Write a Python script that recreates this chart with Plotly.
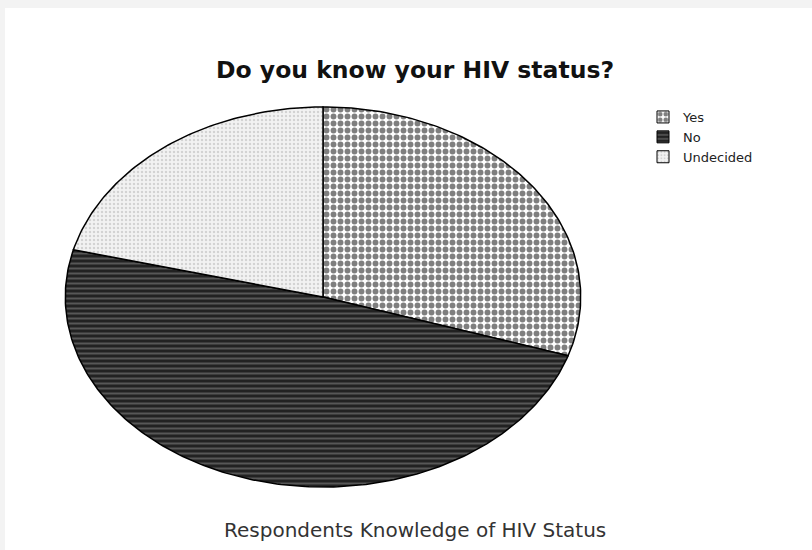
import numpy as np
import plotly.graph_objects as go

# Survey responses: "Do you know your HIV status?"
categories = ["Yes", "No", "Undecided"]
shares = [30, 49, 21]  # percent of respondents

# Per-slice pattern styling
patterns = {
    "Yes": dict(shape=".", fgcolor="#000000", bgcolor="#ffffff", size=7, solidity=0.55),
    "No": dict(shape="-", fgcolor="#8c8c8c", bgcolor="#222222", size=5, solidity=0.4),
    "Undecided": dict(shape=".", fgcolor="#b4b4b4", bgcolor="#f2f2f2", size=4, solidity=0.3),
}

W, H = 812, 550
fig = go.Figure()

# Slices start at 12 o'clock and run clockwise; the axes stretch the unit
# circle into an ellipse.
total = float(sum(shares))
start = 0.0
for name, val in zip(categories, shares):
    f0, f1 = start / total, (start + val) / total
    n = max(int(400 * (f1 - f0)), 8)
    ang = np.radians(90 - 360 * np.linspace(f0, f1, n))
    xs = np.concatenate([[0], np.cos(ang), [0]])
    ys = np.concatenate([[0], np.sin(ang), [0]])
    fig.add_trace(go.Scatter(
        x=xs, y=ys, mode="lines", name=name, legendgroup=name, showlegend=False,
        fill="toself", fillcolor=patterns[name]["bgcolor"],
        fillpattern=patterns[name],
        line=dict(color="#000000", width=1.5),
        hoverinfo="name",
    ))
    start += val

# Square patterned swatches for the legend
for name in categories:
    fig.add_trace(go.Bar(
        x=[None], y=[None], name=name, legendgroup=name,
        marker=dict(color=patterns[name]["bgcolor"], pattern=patterns[name],
                    line=dict(color="#000000", width=1)),
    ))

fig.update_layout(
    width=W, height=H,
    margin=dict(l=0, r=0, t=0, b=0),
    paper_bgcolor="#f3f3f3",
    plot_bgcolor="rgba(0,0,0,0)",
    xaxis=dict(domain=[64 / W, 582 / W], range=[-1.005, 1.005], visible=False, fixedrange=True),
    yaxis=dict(domain=[1 - 488 / H, 1 - 106 / H], range=[-1.005, 1.005], visible=False, fixedrange=True),
    showlegend=True,
    legend=dict(
        x=643 / W, y=1 - 102 / H, xanchor="left", yanchor="top",
        font=dict(family="DejaVu Sans, Arial, sans-serif", size=13, color="#222222"),
        bgcolor="rgba(0,0,0,0)", itemwidth=30, tracegroupgap=0,
    ),
    shapes=[dict(type="rect", xref="paper", yref="paper", x0=5 / W, x1=1, y0=0, y1=1 - 8 / H,
                 fillcolor="#ffffff", line=dict(width=0), layer="below")],
    annotations=[
        dict(text="<b>Do you know your HIV status?</b>", xref="paper", yref="paper",
             x=415 / W, y=1 - 70 / H, xanchor="center", yanchor="middle", showarrow=False,
             font=dict(family="DejaVu Sans, Arial, sans-serif", size=23.5, color="#111111")),
        dict(text="Respondents Knowledge of HIV Status", xref="paper", yref="paper",
             x=415 / W, y=1 - 530 / H, xanchor="center", yanchor="middle", showarrow=False,
             font=dict(family="DejaVu Sans, Arial, sans-serif", size=20, color="#333333")),
    ],
)

fig.write_html("out.html")
